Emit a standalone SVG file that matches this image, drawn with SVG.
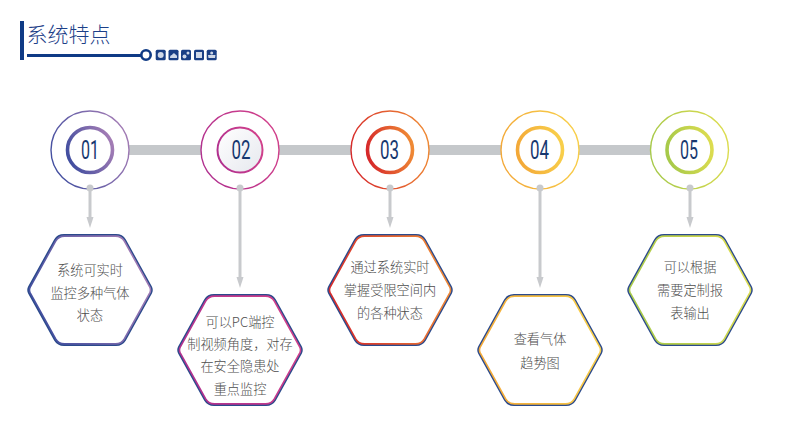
<svg xmlns="http://www.w3.org/2000/svg" width="799" height="444" viewBox="0 0 799 444">
<style>
.t{font-family:"Noto Sans CJK SC","Noto Sans",sans-serif;font-size:13.2px;font-weight:300;fill:#4d4d4d;text-anchor:middle}
.n{font-family:"Liberation Sans Narrow","Roboto","Liberation Sans",sans-serif;font-size:25px;fill:#17386f;text-anchor:middle}
.ln{stroke:#c8cacd;stroke-width:3;fill:none}
.ah{fill:#c8cacd}
.hx{fill:#fff;stroke:#2b4a8c;stroke-width:2}
.hi{fill:none;stroke-width:1.6}
.o{fill:#fff;stroke-width:1.4}
.i{fill:#fff;stroke-width:3.6}
.ic{fill:#1a3f85}
.iw{fill:#cfd8e8}
</style>
<defs>
<path id="hex" d="M-61,-3 L-35,-50 Q-32,-55 -26,-55 L26,-55 Q32,-55 35,-50 L61,-3 Q62.5,0 61,3 L35,50 Q32,55 26,55 L-26,55 Q-32,55 -35,50 L-61,3 Q-62.5,0 -61,-3Z"/>
<linearGradient id="g1" x1="0" y1="0.7" x2="1" y2="0.3"><stop offset="0" stop-color="#3f4d9f"/><stop offset="1" stop-color="#a57db5"/></linearGradient>
<linearGradient id="g2" x1="0" y1="0.7" x2="1" y2="0.3"><stop offset="0" stop-color="#b0308f"/><stop offset="1" stop-color="#d2418b"/></linearGradient>
<linearGradient id="g3" x1="0" y1="0.6" x2="1" y2="0.4"><stop offset="0" stop-color="#d6282a"/><stop offset="1" stop-color="#ef8a35"/></linearGradient>
<linearGradient id="g4" x1="0" y1="0.6" x2="1" y2="0.4"><stop offset="0" stop-color="#f3a838"/><stop offset="1" stop-color="#f8cf4a"/></linearGradient>
<linearGradient id="g5" x1="0" y1="0.6" x2="1" y2="0.4"><stop offset="0" stop-color="#a6c94a"/><stop offset="1" stop-color="#dcdc4f"/></linearGradient>
<linearGradient id="f2" x1="0" y1="0" x2="1" y2="1"><stop offset="0" stop-color="#fff"/><stop offset="1" stop-color="#e6e8ee"/></linearGradient>
</defs>

<g id="title">
<rect x="20" y="21" width="4" height="39" fill="#0f3a85"/>
<text x="26.500" y="41.500" font-family="'Noto Sans CJK SC',sans-serif" font-size="21" font-weight="300" fill="#1c4088">系统特点</text>
<rect x="27" y="54" width="114" height="3" fill="#0f3a85"/>
<circle cx="146" cy="55" r="4.700" fill="#fff" stroke="#0f3a85" stroke-width="2.600"/>
<rect class="ic" x="155.700" y="49.700" width="10" height="10.600" rx="1.500"/><circle class="iw" cx="160.700" cy="55" r="3"/>
<rect class="ic" x="168.500" y="49.700" width="10" height="10.600" rx="1.500"/><path class="iw" d="M170,58 Q170,55 172,55 Q173.500,52 175.500,54.500 Q177.500,55 177,58Z"/>
<rect class="ic" x="181" y="49.700" width="10" height="10.600" rx="1.500"/><circle class="iw" cx="184.500" cy="56.500" r="2"/><circle class="iw" cx="188" cy="53" r="1.500"/>
<rect class="ic" x="194" y="49.700" width="10" height="10.600" rx="1.500"/><rect class="iw" x="196" y="52" width="6" height="6"/>
<rect class="ic" x="206.700" y="49.700" width="10" height="10.600" rx="1.500"/><path class="iw" d="M208,55 L215.500,55 L215,58 L208.500,58Z"/><circle class="iw" cx="211.700" cy="53" r="1.500"/>
</g>

<g id="connectors">
<rect x="129" y="145" width="522" height="10" fill="#c5c8cb"/>
<g><path class="ln" d="M90,188V220"/><path class="ah" d="M86.500,217H93.500L90,228Z"/></g>
<g><path class="ln" d="M240,188V280"/><path class="ah" d="M236.500,277H243.500L240,288Z"/></g>
<g><path class="ln" d="M390,188V220"/><path class="ah" d="M386.500,217H393.500L390,228Z"/></g>
<g><path class="ln" d="M540,188V280"/><path class="ah" d="M536.500,277H543.500L540,288Z"/></g>
<g><path class="ln" d="M690,188V220"/><path class="ah" d="M686.500,217H693.500L690,228Z"/></g>
</g>

<g id="circle1"><circle class="o" cx="90" cy="150" r="39" stroke="url(#g1)"/><circle class="i" cx="90" cy="150" r="22.500" stroke="url(#g1)"/><text class="n" x="90" y="159" textLength="18" lengthAdjust="spacingAndGlyphs">01</text></g>
<g id="circle2"><circle class="o" cx="240" cy="150" r="39" stroke="url(#g2)"/><circle cx="240" cy="150" r="22.500" fill="url(#f2)" stroke="url(#g2)" stroke-width="2"/><text class="n" x="241" y="159" textLength="19" lengthAdjust="spacingAndGlyphs">02</text></g>
<g id="circle3"><circle class="o" cx="390" cy="150" r="39" stroke="url(#g3)"/><circle class="i" cx="390" cy="150" r="22.500" stroke="url(#g3)"/><text class="n" x="389.500" y="159" textLength="19" lengthAdjust="spacingAndGlyphs">03</text></g>
<g id="circle4"><circle class="o" cx="540" cy="150" r="39" stroke="url(#g4)"/><circle class="i" cx="540" cy="150" r="22.500" stroke="url(#g4)"/><text class="n" x="539.500" y="159" textLength="19" lengthAdjust="spacingAndGlyphs">04</text></g>
<g id="circle5"><circle class="o" cx="689.500" cy="150" r="39" stroke="url(#g5)"/><circle class="i" cx="689.500" cy="150" r="22.500" stroke="url(#g5)"/><text class="n" x="689" y="159" textLength="18" lengthAdjust="spacingAndGlyphs">05</text></g>

<g id="dots">
<circle class="ah" cx="90" cy="188" r="3.500"/><circle class="ah" cx="240" cy="188" r="3.500"/><circle class="ah" cx="390" cy="188" r="3.500"/><circle class="ah" cx="540" cy="188" r="3.500"/><circle class="ah" cx="690" cy="188" r="3.500"/>
</g>

<g id="hex1" transform="translate(90,290)"><use href="#hex" class="hx"/><use href="#hex" class="hi" stroke="url(#g1)" transform="scale(.98)"/>
<text class="t" y="-15">系统可实时</text><text class="t" y="8">监控多种气体</text><text class="t" y="30">状态</text></g>
<g id="hex2" transform="translate(240,350)"><use href="#hex" class="hx"/><use href="#hex" class="hi" stroke="url(#g2)" transform="scale(.98)"/>
<text class="t" y="-23">可以PC端控</text><text class="t" y="-1">制视频角度，对存</text><text class="t" y="21">在安全隐患处</text><text class="t" y="44">重点监控</text></g>
<g id="hex3" transform="translate(390,290)"><use href="#hex" class="hx"/><use href="#hex" class="hi" stroke="url(#g3)" transform="scale(.98)"/>
<text class="t" y="-18">通过系统实时</text><text class="t" y="5">掌握受限空间内</text><text class="t" y="28">的各种状态</text></g>
<g id="hex4" transform="translate(540,350)"><use href="#hex" class="hx"/><use href="#hex" class="hi" stroke="url(#g4)" transform="scale(.98)"/>
<text class="t" y="-6">查看气体</text><text class="t" y="18">趋势图</text></g>
<g id="hex5" transform="translate(690,290)"><use href="#hex" class="hx"/><use href="#hex" class="hi" stroke="url(#g5)" transform="scale(.98)"/>
<text class="t" y="-18">可以根据</text><text class="t" y="5">需要定制报</text><text class="t" y="28">表输出</text></g>
</svg>
